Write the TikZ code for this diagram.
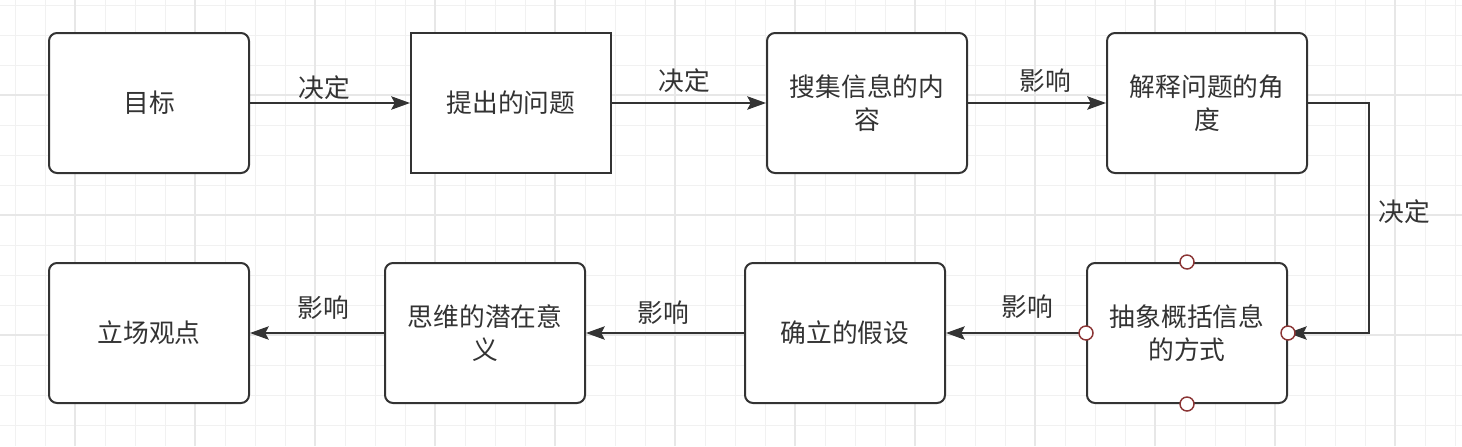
\documentclass[tikz,border=0pt]{standalone}
\usepackage{fontspec}
\setmainfont{Noto Sans CJK SC}
\usetikzlibrary{arrows.meta}

\begin{document}
\begin{tikzpicture}[x=0.75pt,y=-0.75pt]
  % Key Colors
  \definecolor{inkcolor}  {HTML}{333333}
  \definecolor{gridcolor} {HTML}{F1F1F1}
  \definecolor{majorcolor}{HTML}{E7E7E7}
  \definecolor{pincolor}  {HTML}{8B3535}

  % Styles
  \tikzstyle{flow box}=[draw=inkcolor,line width=1.5pt,fill=white,text=inkcolor,
                        minimum width=150pt,minimum height=105pt,align=center,
                        rounded corners=6pt,font=\fontsize{19.3}{25}\selectfont]
  \tikzstyle{flow text}=[text=inkcolor,inner sep=0pt,font=\fontsize{19.3}{25}\selectfont]
  \tikzstyle{flow line}=[draw=inkcolor,line width=1.2pt,
                         -{Stealth[length=14pt,width=10pt,inset=2.5pt]}]
  \tikzstyle{pin}=[draw=pincolor,line width=1.1pt,fill=white]

  % The grid
  \useasboundingbox (0,0) rectangle (1462,446);
  \fill[white] (0,0) rectangle (1462,446);
  \foreach \x in {15,45,...,1455} \draw[gridcolor,line width=0.75pt] (\x,0) -- (\x,446);
  \foreach \y in {5,35,...,425}   \draw[gridcolor,line width=0.75pt] (0,\y) -- (1462,\y);
  \foreach \x in {75,195,...,1395} \draw[majorcolor,line width=1.2pt] (\x,0) -- (\x,446);
  \foreach \y in {95,215,335}      \draw[majorcolor,line width=1.2pt] (0,\y) -- (1462,\y);

  % Key Points
  \node[flow box]               (goal)     at (149, 103) {目标};
  \node[flow box,sharp corners] (question) at (511, 103) {提出的问题};
  \node[flow box]               (collect)  at (867, 103) {搜集信息的内\\容};
  \node[flow box]               (explain)  at (1207,103) {解释问题的角\\度};
  \node[flow box]               (abstract) at (1187,333) {抽象概括信息\\的方式};
  \node[flow box]               (assume)   at (845, 333) {确立的假设};
  \node[flow box]               (meaning)  at (485, 333) {思维的潜在意\\义};
  \node[flow box]               (stance)   at (149, 333) {立场观点};

  % Connectors
  \draw[flow line] (goal)     -- (question);
  \draw[flow line] (question) -- (collect);
  \draw[flow line] (collect)  -- (explain);
  \draw[flow line] (explain.east) -- ++(61,0) |- (abstract.east);
  \draw[flow line] (abstract) -- (assume);
  \draw[flow line] (assume)   -- (meaning);
  \draw[flow line] (meaning)  -- (stance);

  % Labels
  \node[flow text] (decide1) at (324, 88)  {决定};
  \node[flow text] (decide2) at (684, 81)  {决定};
  \node[flow text] (affect1) at (1045,81)  {影响};
  \node[flow text] (decide3) at (1404,212) {决定};
  \node[flow text] (affect2) at (1027,307) {影响};
  \node[flow text] (affect3) at (663, 313) {影响};
  \node[flow text] (affect4) at (323, 308) {影响};

  % Connection points
  \foreach \side in {north,south,east,west}
    \draw[pin] (abstract.\side) circle (5.25pt);
\end{tikzpicture}
\end{document}
